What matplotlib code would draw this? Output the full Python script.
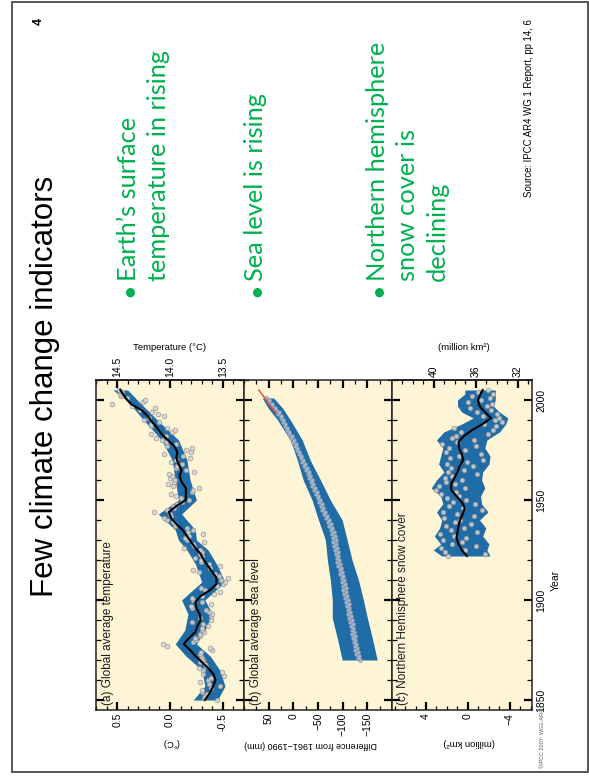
import matplotlib
matplotlib.use("Agg")
import matplotlib.pyplot as plt
from matplotlib import font_manager
from matplotlib.patches import Rectangle
from matplotlib.ticker import MultipleLocator, FixedLocator, FormatStrFormatter

W, H, DPI = 589, 776, 100

# ---------------- data ----------------
# (a) global mean temperature anomaly (deg C, vs 1961-1990), annual 1850-2005
temp_years = list(range(1850, 2006))
temp_anom = [
    -0.44, -0.32, -0.33, -0.35, -0.30, -0.30, -0.39, -0.47, -0.37, -0.28,
    -0.36, -0.39, -0.51, -0.31, -0.49, -0.31, -0.27, -0.34, -0.33, -0.28,
    -0.31, -0.30, -0.29, -0.28, -0.29, -0.40, -0.38, 0.03, 0.07, -0.22,
    -0.25, -0.24, -0.28, -0.28, -0.32, -0.30, -0.30, -0.36, -0.31, -0.21,
    -0.39, -0.28, -0.39, -0.40, -0.37, -0.34, -0.21, -0.20, -0.39, -0.30,
    -0.22, -0.21, -0.30, -0.42, -0.47, -0.33, -0.29, -0.44, -0.50, -0.52,
    -0.48, -0.55, -0.46, -0.43, -0.27, -0.22, -0.38, -0.47, -0.37, -0.29,
    -0.29, -0.24, -0.30, -0.28, -0.30, -0.28, -0.13, -0.23, -0.22, -0.32,
    -0.16, -0.14, -0.18, -0.31, -0.17, -0.22, -0.16, -0.05, -0.05, -0.03,
    0.03, 0.06, -0.01, 0.00, 0.15, 0.03, -0.04, -0.03, -0.07, -0.11,
    -0.18, -0.10, -0.06, -0.01, -0.21, -0.22, -0.27, -0.03, 0.02, -0.04,
    -0.05, 0.00, -0.02, 0.01, -0.23, -0.15, -0.06, -0.07, -0.11, -0.01,
    -0.06, -0.19, -0.12, 0.06, -0.20, -0.15, -0.21, 0.03, -0.06, 0.04,
    0.08, 0.13, 0.04, 0.18, -0.02, -0.05, 0.03, 0.18, 0.18, 0.10,
    0.25, 0.20, 0.06, 0.11, 0.17, 0.28, 0.14, 0.36, 0.55, 0.26,
    0.24, 0.41, 0.46, 0.47, 0.45, 0.48,
]
temp_smooth_years = [1850, 1853, 1857, 1860, 1863, 1866, 1869, 1872, 1875, 1878,
                     1881, 1884, 1887, 1890, 1893, 1896, 1899, 1902, 1905, 1908,
                     1911, 1914, 1917, 1920, 1923, 1926, 1929, 1932, 1935, 1938,
                     1941, 1944, 1947, 1950, 1953, 1956, 1959, 1962, 1965, 1968,
                     1971, 1974, 1977, 1980, 1983, 1986, 1989, 1992, 1995, 1998,
                     2001, 2005]
temp_smooth = [-0.33, -0.37, -0.41, -0.43, -0.41, -0.36, -0.30, -0.24, -0.19, -0.13,
               -0.18, -0.24, -0.26, -0.29, -0.28, -0.25, -0.24, -0.29, -0.38, -0.44,
               -0.44, -0.40, -0.36, -0.32, -0.29, -0.24, -0.20, -0.16, -0.12, -0.06,
               -0.01, 0.01, -0.06, -0.15, -0.15, -0.15, -0.11, -0.09, -0.11, -0.08,
               -0.06, -0.07, -0.04, 0.02, 0.08, 0.12, 0.17, 0.21, 0.27, 0.37,
               0.42, 0.47]
temp_band_years = [1850, 1857, 1865, 1872, 1878, 1885, 1893, 1900, 1909, 1918, 1925,
                   1930, 1935, 1943, 1950, 1960, 1970, 1980, 1990, 2000, 2005]
temp_band_lo = [-0.45, -0.52, -0.47, -0.38, -0.25, -0.33, -0.40, -0.33, -0.52, -0.44, -0.36,
                -0.25, -0.24, -0.11, -0.25, -0.19, -0.16, -0.08, 0.12, 0.31, 0.40]
temp_band_hi = [-0.22, -0.33, -0.30, -0.15, -0.05, -0.14, -0.17, -0.11, -0.30, -0.24, -0.16,
                -0.08, -0.05, 0.11, -0.08, -0.05, -0.02, 0.08, 0.25, 0.41, 0.54]

# (b) global mean sea level (mm, vs 1961-1990), tide gauges 1870-2001
sea_years = list(range(1870, 2002))
sea_mm = [
    -136, -131, -134, -128, -132, -126, -129, -124, -127, -122,
    -126, -121, -124, -119, -123, -118, -121, -117, -120, -114,
    -118, -113, -116, -111, -115, -110, -113, -108, -112, -107,
    -110, -105, -108, -103, -107, -101, -106, -100, -104, -99,
    -103, -98, -101, -95, -99, -94, -97, -91, -95, -89,
    -93, -88, -91, -86, -90, -84, -88, -83, -87, -81,
    -86, -80, -84, -78, -82, -76, -79, -73, -76, -70,
    -73, -67, -69, -63, -65, -59, -61, -56, -58, -52,
    -55, -50, -51, -46, -48, -42, -44, -38, -40, -35,
    -37, -32, -34, -29, -31, -26, -27, -22, -23, -18,
    -20, -15, -16, -11, -12, -7, -8, -3, -5, 1,
    -2, 4, 3, 9, 8, 13, 12, 17, 16, 21,
    21, 26, 25, 31, 30, 36, 37, 43, 44, 49,
    50, 55,
]
sea_smooth_years = [1870, 1875, 1880, 1885, 1890, 1895, 1900, 1905, 1910, 1915, 1920,
                    1925, 1930, 1935, 1940, 1945, 1950, 1955, 1960, 1965, 1970,
                    1975, 1980, 1985, 1990, 1995, 2001]
sea_smooth = [-134, -128, -125, -120, -116, -112, -109, -104, -102, -96, -92,
              -88, -85, -80, -72, -61, -54, -45, -35, -28, -19,
              -9, -2, 12, 22, 35, 53]
sea_band_years = [1870, 1881, 1891, 1900, 1910, 1920, 1930, 1940, 1950, 1960,
                  1970, 1980, 1990, 1996, 2001]
sea_band_lo = [-170, -160, -150, -142, -132, -119, -109, -99, -75, -55, -34, -18, 6, 22, 40]
sea_band_hi = [-99, -89, -79, -79, -75, -69, -65, -51, -38, -20, -8, 6, 32, 51, 63]
sat_years = list(range(1993, 2006))
sat_mm = [35, 37, 40, 43, 46, 50, 52, 55, 58, 61, 64, 67, 70]

# (c) Northern Hemisphere March-April snow cover anomaly (million km2), 1922-2005
snow_years = list(range(1922, 2006))
snow_anom = [
    1.9, -1.6, 2.2, 0.3, 2.6, -0.8, 1.5, 0.6,
    2.4, 0.2, 1.3, 2.7, -0.9, 1.6, 0.4, 2.1, -0.3, 1.2,
    0.8, 2.3, -0.6, 1.0, 2.4, -1.3, 0.5, 1.8, -0.7, 1.4,
    0.2, 2.0, 0.9, 2.6, 1.1, 3.0, 0.3, 2.8, 1.2, 2.1,
    0.6, 2.2, 1.5, -0.9, 1.9, 0.4, 1.6, -0.5, 2.0, 0.1,
    -1.4, 1.7, 0.9, -1.2, 2.1, 0.3, 1.8, -0.8, 2.5, 1.0,
    -0.6, 1.5, 1.1, -1.9, 0.7, -2.4, 1.3, -2.7, -1.5, -3.2,
    -2.6, -3.0, -1.4, -2.8, -0.9, -2.2, -0.2, -1.8, -2.3, 0.0,
    -1.2, -2.1, -0.4, -2.4, -1.0, -1.9,
]
snow_smooth_years = [1922, 1925, 1928, 1931, 1934, 1937, 1940, 1943, 1946, 1949,
                     1952, 1955, 1958, 1961, 1964, 1967, 1970, 1973, 1976, 1979,
                     1982, 1985, 1988, 1991, 1994, 1997, 2000, 2003, 2005]
snow_smooth = [0.1, 0.6, 0.9, 1.1, 1.0, 0.9, 0.75, 0.5, 0.3, 0.6,
               1.1, 1.6, 1.6, 1.3, 1.0, 0.8, 0.45, 0.6, 0.85, 0.9,
               0.4, -0.4, -1.4, -2.2, -1.6, -1.1, -0.95, -1.2, -1.4]
snow_band_years = [1922, 1925, 1928, 1932, 1936, 1940, 1944, 1948, 1952, 1956, 1960, 1964,
                   1968, 1972, 1976, 1980, 1984, 1988, 1991, 1994, 1997, 2000, 2003, 2005]
snow_band_hi = [2.5, 3.3, 2.6, 3.2, 2.7, 2.5, 3.0, 2.4, 2.6, 3.5, 3.0, 2.3,
                2.8, 2.6, 2.4, 3.0, 2.3, 0.6, -0.5, 0.6, 1.0, 1.0, 0.3, 0.3]
snow_band_lo = [-2.1, -1.8, -2.0, -1.4, -1.7, -1.1, -1.9, -1.3, -1.2, -1.6, -1.3, -1.4,
                -2.0, -2.1, -1.6, -1.8, -3.0, -3.6, -3.8, -3.0, -2.4, -2.6, -2.6, -2.6]

TEMP_BASE = 14.0      # absolute temperature of the zero anomaly
SNOW_BASE = 36.75     # absolute snow cover of the zero anomaly

# ---------------- style ----------------
CREAM = "#fdf5d6"
BLUE = "#1f6ca6"
GREEN = "#00b050"
SANS = "Liberation Sans"
names = {f.name for f in font_manager.fontManager.ttflist}
NARROW = "Liberation Sans Narrow" if "Liberation Sans Narrow" in names else None

fig = plt.figure(figsize=(W / DPI, H / DPI), dpi=DPI)
fig.patch.set_facecolor("white")


def fx(x):
    return x / W


def fy(y):
    return 1 - y / H


def ptext(x, y, s, **kw):
    kw.setdefault("rotation", 90)
    kw.setdefault("rotation_mode", "anchor")
    kw.setdefault("ha", "left")
    kw.setdefault("va", "baseline")
    return fig.text(fx(x), fy(y), s, **kw)


# slide frame
fig.add_artist(Rectangle((fx(12), fy(772)), (588 - 12) / W, (772 - 2) / H,
                         transform=fig.transFigure, fill=False, ec="#4a4a4a", lw=1.3))

# slide title, page number, source
if NARROW:
    ptext(53, 597, "Few climate change indicators", family=NARROW, size=27.4)
    ptext(531.5, 197, "Source: IPCC AR4 WG 1 Report, pp 14, 6", family=NARROW, size=8.4)
else:
    ptext(53, 597, "Few climate change indicators", family=SANS, size=22.5)
    ptext(531.5, 197, "Source: IPCC AR4 WG 1 Report, pp 14, 6", family=SANS, size=6.9)
ptext(42, 25, "4", family=SANS, size=9, weight="bold")

# green bullet points
bullets = [
    ([136, 166], ["Earth\u2019s surface", "temperature in rising"]),
    ([263], ["Sea level is rising"]),
    ([385, 415, 445], ["Northern hemisphere", "snow cover is", "declining"]),
]
for xs, lines in bullets:
    ptext(xs[0], 297, "\u2022", family="Lato", size=18.3, color=GREEN)
    for bx, line in zip(xs, lines):
        ptext(bx, 281, line, family="Lato", size=18.3, color=GREEN)


# ---------------- chart panels ----------------
def panel(x0, x1, y0=380, y1=710):
    ax = fig.add_axes([fx(x0), fy(y1), (x1 - x0) / W, (y1 - y0) / H])
    ax.set_facecolor(CREAM)
    ax.set_ylim(1845, 2010)
    ax.yaxis.set_major_locator(MultipleLocator(50))
    ax.yaxis.set_minor_locator(MultipleLocator(10))
    ax.tick_params(axis="y", which="both", direction="in", left=True, right=True,
                   labelleft=False, labelright=False)
    ax.tick_params(axis="y", which="major", length=6, width=1.6)
    ax.tick_params(axis="y", which="minor", length=3.5, width=0.9)
    ax.tick_params(axis="x", which="both", direction="in", labelrotation=90,
                   labelsize=7.5, pad=2)
    ax.tick_params(axis="x", which="major", length=5.5, width=1.6)
    ax.tick_params(axis="x", which="minor", length=3.0, width=0.9)
    for t in ax.get_xticklabels():
        t.set_family(SANS)
    for s in ax.spines.values():
        s.set_linewidth(1.1)
        s.set_color("#222222")
    return ax


def top_axis(ax, base, ticks, minor, fmt):
    sec = ax.secondary_xaxis("top", functions=(lambda v: v + base, lambda v: v - base))
    sec.xaxis.set_major_locator(FixedLocator(ticks))
    sec.xaxis.set_minor_locator(MultipleLocator(minor))
    sec.xaxis.set_major_formatter(FormatStrFormatter(fmt))
    sec.tick_params(axis="x", which="both", direction="in", labelrotation=90,
                    labelsize=7.5, pad=2)
    sec.tick_params(axis="x", which="major", length=5.5, width=1.6)
    sec.tick_params(axis="x", which="minor", length=3.0, width=0.9)
    sec.spines["top"].set_linewidth(1.1)
    for t in sec.get_xticklabels():
        t.set_family(SANS)
    return sec


def dots(ax, x, y, face, edge, ms):
    ax.plot(x, y, "o", ms=ms, mfc=face, mec=edge, mew=0.5, alpha=0.85, zorder=3)


def panel_title(ax, s):
    ax.text(0.1, 0.015, s, transform=ax.transAxes, rotation=90, rotation_mode="anchor",
            ha="left", va="baseline", family=SANS, size=8.5, color="#1a1a1a")


# (a) temperature
ax_a = panel(96, 244)
ax_a.set_xlim(0.7, -0.7)
ax_a.xaxis.set_major_locator(FixedLocator([0.5, 0.0, -0.5]))
ax_a.xaxis.set_major_formatter(FormatStrFormatter("%.1f"))
ax_a.xaxis.set_minor_locator(MultipleLocator(0.1))
ax_a.fill_betweenx(temp_band_years, temp_band_lo, temp_band_hi, color=BLUE, lw=0, zorder=2)
dots(ax_a, temp_anom, temp_years, "#d6d6d6", "#8a8a8a", 3.4)
ax_a.plot(temp_smooth, temp_smooth_years, color="black", lw=1.5, zorder=4)
top_axis(ax_a, TEMP_BASE, [14.5, 14.0, 13.5], 0.1, "%.1f")
panel_title(ax_a, "(a) Global average temperature")

# (b) sea level
ax_b = panel(244, 392)
ax_b.set_xlim(100, -200)
ax_b.xaxis.set_major_locator(FixedLocator([50, 0, -50, -100, -150]))
ax_b.xaxis.set_minor_locator(MultipleLocator(25))
ax_b.tick_params(axis="x", which="both", top=True)
ax_b.fill_betweenx(sea_band_years, sea_band_lo, sea_band_hi, color=BLUE, lw=0, zorder=2)
ax_b.plot(sea_smooth, sea_smooth_years, color="black", lw=1.0, zorder=3)
dots(ax_b, sea_mm, sea_years, "#b4c6dc", "#7d8ea3", 2.9)
ax_b.plot(sat_mm, sat_years, color="#e0483a", lw=1.0, zorder=5)
panel_title(ax_b, "(b) Global average sea level")

# (c) snow cover
ax_c = panel(392, 532)
ax_c.set_xlim(7.24, -6.1)
ax_c.xaxis.set_major_locator(FixedLocator([4, 0, -4]))
ax_c.xaxis.set_minor_locator(MultipleLocator(1))
ax_c.fill_betweenx(snow_band_years, snow_band_lo, snow_band_hi, color=BLUE, lw=0, zorder=2)
dots(ax_c, snow_anom, snow_years, "#d6d6d6", "#8a8a8a", 3.4)
ax_c.plot(snow_smooth, snow_smooth_years, color="black", lw=1.5, zorder=4)
top_axis(ax_c, SNOW_BASE, [40, 36, 32], 1, "%d")
panel_title(ax_c, "(c) Northern Hemisphere snow cover")
ax_c.tick_params(axis="y", which="major", labelright=True, labelrotation=90,
                 labelsize=7.5, pad=3)
for tk in ax_c.yaxis.get_major_ticks():
    tk.label2.set_va("center")
    tk.label2.set_family(SANS)

# axis titles
fig.text(fx(170), fy(347), "Temperature (\u00b0C)", ha="center", va="center",
         family=SANS, size=6.8)
fig.text(fx(464), fy(347), "(million km\u00b2)", ha="center", va="center",
         family=SANS, size=6.8)
fig.text(fx(171), fy(743), "(\u00b0C)", ha="center", va="center", rotation=180,
         family=SANS, size=6.8)
fig.text(fx(311), fy(744), "Difference from 1961\u22121990 (mm)", ha="center", va="center",
         rotation=180, family=SANS, size=6.5)
fig.text(fx(469), fy(743), "(million km\u00b2)", ha="center", va="center", rotation=180,
         family=SANS, size=6.8)
fig.text(fx(556), fy(580), "Year", ha="center", va="center", rotation=90,
         family=SANS, size=7.5)
ptext(544, 768, "\u00a9IPCC 2007: WG1-AR4", family=SANS, size=4, color="#555555")

fig.savefig("out.png", dpi=DPI, facecolor="white")
